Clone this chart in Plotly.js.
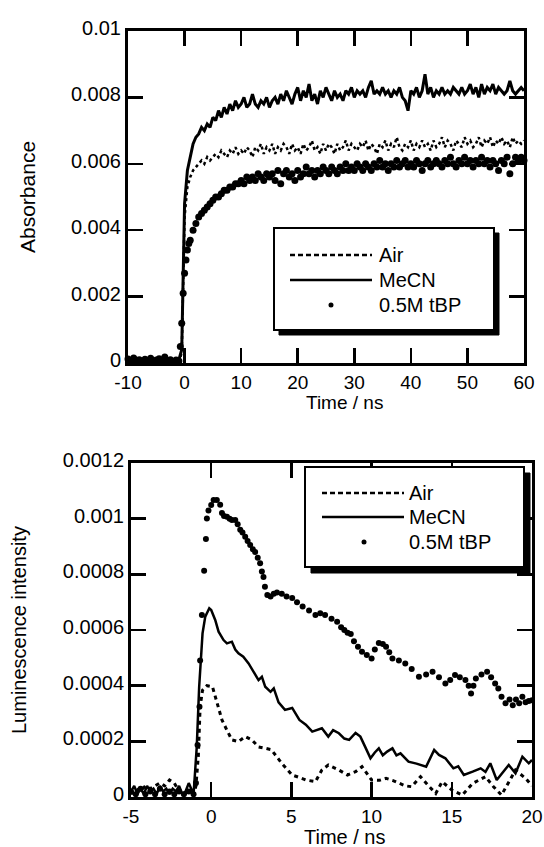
<!DOCTYPE html>
<html>
<head>
<meta charset="utf-8">
<script src="https://cdn.plot.ly/plotly-3.0.1.min.js"></script>
<style>html,body{margin:0;padding:0;background:#fff;}#chart{width:544px;height:847px;}</style>
</head>
<body>
<div id="chart"></div>
<script>
// ---------- Top panel: transient absorbance ----------
const tTop = [
 -10,-9.5,-9,-8.5,-8,-7.5,-7,-6.5,-6,-5.5,
 -5,-4.5,-4,-3.5,-3,-2.5,-2,-1.5,-1,-0.5,
 0,0.5,1,1.5,2,2.5,3,3.5,4,4.5,
 5,5.5,6,6.5,7,7.5,8,8.5,9,9.5,
 10,10.5,11,11.5,12,12.5,13,13.5,14,14.5,
 15,15.5,16,16.5,17,17.5,18,18.5,19,19.5,
 20,20.5,21,21.5,22,22.5,23,23.5,24,24.5,
 25,25.5,26,26.5,27,27.5,28,28.5,29,29.5,
 30,30.5,31,31.5,32,32.5,33,33.5,34,34.5,
 35,35.5,36,36.5,37,37.5,38,38.5,39,39.5,
 40,40.5,41,41.5,42,42.5,43,43.5,44,44.5,
 45,45.5,46,46.5,47,47.5,48,48.5,49,49.5,
 50,50.5,51,51.5,52,52.5,53,53.5,54,54.5,
 55,55.5,56,56.5,57,57.5,58,58.5,59,59.5,
 60];

const absMeCN = [
 0.0001,0.00005,0.00012,0.00003,0.00008,0.0001,0.00002,0.00009,0.00006,0.00011,
 0.00004,0.00008,0.00003,0.0001,0.00006,0.00002,0.00008,0.00005,0.0001,0.0004,
 0.0048,0.0058,0.0062,0.0066,0.0068,0.0069,0.0071,0.0070,0.0072,0.0071,
 0.0074,0.0073,0.0076,0.0074,0.0077,0.0075,0.0078,0.0076,0.0079,0.0077,
 0.0078,0.0080,0.0077,0.0078,0.0081,0.0078,0.0077,0.0079,0.0078,0.0080,
 0.0077,0.0079,0.0080,0.0078,0.0081,0.0079,0.0082,0.0080,0.0078,0.0081,
 0.0083,0.0079,0.0082,0.0080,0.0084,0.0079,0.0081,0.0078,0.0082,0.0080,
 0.0083,0.0081,0.0079,0.0082,0.0080,0.0081,0.0079,0.0082,0.0081,0.0083,
 0.0080,0.0082,0.0081,0.0082,0.0080,0.0083,0.0085,0.0081,0.0082,0.0081,
 0.0083,0.0081,0.0082,0.0080,0.0082,0.0081,0.0083,0.0080,0.0079,0.0076,
 0.0082,0.0081,0.0083,0.0080,0.0082,0.0087,0.0081,0.0083,0.0080,0.0082,
 0.0081,0.0083,0.0081,0.0082,0.0081,0.0083,0.0082,0.0081,0.0083,0.0081,
 0.0082,0.0084,0.0081,0.0083,0.0080,0.0084,0.0081,0.0083,0.0082,0.0084,
 0.0081,0.0083,0.0082,0.0081,0.0082,0.0085,0.0082,0.0081,0.0082,0.0083,
 0.0082];

const absAir = [
 0.00008,0.00003,0.0001,0.00005,0.00012,0.00004,0.00009,0.00002,0.0001,0.00006,
 0.00011,0.00003,0.00008,0.00005,0.0001,0.00004,0.00007,0.0001,0.00005,0.0003,
 0.0044,0.0053,0.0056,0.0058,0.0059,0.0060,0.0061,0.0060,0.0062,0.0061,
 0.0062,0.0063,0.0062,0.0064,0.0063,0.0062,0.0064,0.0063,0.0065,0.0063,
 0.0064,0.0063,0.0065,0.0064,0.0062,0.0065,0.0064,0.0066,0.0063,0.0065,
 0.0064,0.0066,0.0063,0.0065,0.0064,0.0066,0.0065,0.0063,0.0066,0.0064,
 0.0065,0.0063,0.0066,0.0064,0.0065,0.0067,0.0064,0.0065,0.0063,0.0066,
 0.0064,0.0066,0.0065,0.0063,0.0066,0.0064,0.0065,0.0067,0.0064,0.0066,
 0.0065,0.0064,0.0066,0.0065,0.0067,0.0064,0.0066,0.0065,0.0063,0.0066,
 0.0065,0.0067,0.0064,0.0066,0.0065,0.0068,0.0065,0.0064,0.0066,0.0065,
 0.0067,0.0064,0.0066,0.0065,0.0067,0.0065,0.0066,0.0064,0.0067,0.0065,
 0.0066,0.0068,0.0065,0.0067,0.0066,0.0064,0.0067,0.0066,0.0065,0.0068,
 0.0066,0.0067,0.0065,0.0066,0.0068,0.0065,0.0067,0.0066,0.0068,0.0065,
 0.0067,0.0066,0.0068,0.0066,0.0067,0.0065,0.0068,0.0066,0.0067,0.0066,
 0.0067];

const tTopDots = [
 -10,-9.5,-9,-8.5,-8,-7.5,-7,-6.5,-6,-5.5,
 -5,-4.5,-4,-3.5,-3,-2.5,-2,-1.5,-1,-0.75,-0.5,-0.25,
 0,0.25,0.5,0.75,1,1.5,2,2.5,3,3.5,4,4.5,
 5,5.5,6,6.5,7,7.5,8,8.5,9,9.5,
 10,10.5,11,11.5,12,12.5,13,13.5,14,14.5,
 15,15.5,16,16.5,17,17.5,18,18.5,19,19.5,
 20,20.5,21,21.5,22,22.5,23,23.5,24,24.5,
 25,25.5,26,26.5,27,27.5,28,28.5,29,29.5,
 30,30.5,31,31.5,32,32.5,33,33.5,34,34.5,
 35,35.5,36,36.5,37,37.5,38,38.5,39,39.5,
 40,40.5,41,41.5,42,42.5,43,43.5,44,44.5,
 45,45.5,46,46.5,47,47.5,48,48.5,49,49.5,
 50,50.5,51,51.5,52,52.5,53,53.5,54,54.5,
 55,55.5,56,56.5,57,57.5,58,58.5,59,59.5,
 60];

const absTBP = [
 0.00012,0.00005,0.00015,0.00008,0.0001,0.00003,0.00011,0.00006,0.00014,0.00004,
 0.00009,0.00013,0.00005,0.00018,0.00007,0.0001,0.00004,0.00009,0.00006,0.0005,0.0012,0.0021,
 0.0027,0.0031,0.0034,0.0036,0.0037,0.0040,0.0042,0.0044,0.0045,0.0046,0.0047,0.0048,
 0.0049,0.0050,0.0050,0.0051,0.0052,0.0052,0.0053,0.0053,0.0054,0.0054,
 0.0055,0.0054,0.0056,0.0055,0.0056,0.0055,0.0057,0.0056,0.0055,0.0057,
 0.0056,0.0057,0.0055,0.0058,0.0054,0.0057,0.0058,0.0056,0.0057,0.0055,
 0.0058,0.0056,0.0057,0.0059,0.0057,0.0058,0.0056,0.0058,0.0057,0.0059,
 0.0058,0.0057,0.0059,0.0058,0.0057,0.0059,0.0058,0.0060,0.0058,0.0059,
 0.0058,0.0060,0.0059,0.0058,0.0060,0.0059,0.0058,0.0060,0.0059,0.0061,
 0.0059,0.0060,0.0058,0.0060,0.0059,0.0061,0.0059,0.0060,0.0061,0.0059,
 0.0060,0.0059,0.0061,0.0060,0.0058,0.0060,0.0061,0.0059,0.0060,0.0061,
 0.0060,0.0059,0.0061,0.0060,0.0062,0.0060,0.0059,0.0061,0.0060,0.0062,
 0.0060,0.0061,0.0059,0.0061,0.0060,0.0062,0.0060,0.0061,0.0059,0.0061,
 0.0060,0.0058,0.0061,0.0060,0.0062,0.0057,0.0060,0.0062,0.0061,0.0062,
 0.0061];

// ---------- Bottom panel: luminescence ----------
const tLumMeCN = [
 -5,-4.8,-4.6,-4.4,-4.2,-4,-3.8,-3.6,-3.4,-3.2,
 -3,-2.8,-2.6,-2.4,-2.2,-2,-1.8,-1.6,-1.4,-1.2,
 -1.1,-0.9,-0.75,-0.54,-0.37,-0.12,0,0.25,0.46,0.77,
 0.98,1.29,1.5,1.7,2,2.33,2.64,2.95,3.16,3.37,
 3.7,3.9,4.2,4.6,5.05,5.5,5.9,6.3,6.9,7.3,
 7.6,7.96,8.3,8.6,9,9.3,9.6,9.93,10.2,10.45,
 10.7,10.97,11.3,11.55,11.8,12.3,12.8,13.4,13.9,14.2,
 14.6,15.1,15.4,15.75,16.3,16.8,17.1,17.4,17.8,18.2,
 18.55,18.97,19.4,19.8,20];
const lumMeCN = [
 0.00002,0.00004,0.00001,0.00003,0.00001,0.00004,0.00002,0.00003,0.00001,0.00004,
 0.00002,0.00003,0.00001,0.00003,0.00002,0.00004,0.00001,0.00002,0.00005,0.00002,
 0.00001,0.00018,0.000396,0.000588,0.000648,0.000678,0.000672,0.000636,0.000594,0.000564,
 0.000552,0.000558,0.00053,0.000516,0.000504,0.00048,0.00045,0.00042,0.000432,0.000396,
 0.000378,0.00039,0.00034,0.000313,0.00032,0.000277,0.00026,0.000235,0.000247,0.000217,
 0.00024,0.000229,0.00021,0.000205,0.00023,0.000217,0.00018,0.000139,0.00016,0.000175,
 0.00015,0.000163,0.000175,0.00015,0.000157,0.000127,0.00012,0.000109,0.000169,0.000151,
 0.000139,0.000103,0.00011,0.000079,0.000091,0.000103,0.00009,0.000121,0.000061,0.00009,
 0.000115,0.000085,0.000145,0.000121,0.000133];

const tLumAir = [
 -5,-4.7,-4.4,-4.1,-3.8,-3.5,-3.2,-2.9,-2.6,-2.3,
 -2,-1.7,-1.4,-1.1,-0.95,-0.8,-0.69,-0.54,-0.27,0.08,
 0.2,0.46,0.67,0.98,1.29,1.7,2.12,2.54,2.95,3.37,
 3.75,4.4,5.05,5.5,5.9,6.5,6.9,7.3,7.96,8.5,
 9,9.4,10,10.5,10.9,11.3,11.7,12.1,12.5,13.05,
 13.5,14,14.4,15,15.65,16.3,17.1,17.6,18.1,18.55,
 18.97,19.6,20];
const lumAir = [
 0.00001,0.00003,0.00002,0.00004,0.00003,0.00004,0.00005,0.00004,0.000061,0.00005,
 0.00002,0.00001,0.00002,0.00001,0.00004,0.00015,0.000324,0.000384,0.0004,0.000396,
 0.000372,0.000313,0.000277,0.00024,0.000205,0.000199,0.000217,0.000205,0.00018,0.000175,
 0.00017,0.000121,0.000079,0.00007,0.000061,0.000055,0.000097,0.000115,0.000097,0.000079,
 0.000091,0.000109,0.000061,0.00006,0.000067,0.00006,0.000049,0.00004,0.000037,0.000073,
 0.000043,0.000013,0.000055,0.000025,0.000007,0.000049,0.000073,0.000037,0.000007,0.000055,
 0.000097,0.000067,0.00004];

const tLumTBP = [
 -5,-4.7,-4.4,-4.1,-3.8,-3.5,-3.2,-2.9,-2.6,-2.3,
 -2,-1.7,-1.4,-1.1,-0.95,-0.85,-0.73,-0.69,-0.58,-0.44,
 -0.33,-0.27,-0.17,0,0.15,0.35,0.56,0.67,0.8,0.98,
 1.15,1.29,1.5,1.65,1.81,1.95,2.12,2.27,2.43,2.6,
 2.74,2.9,3.05,3.16,3.26,3.35,3.5,3.7,3.9,4.1,
 4.4,4.7,5.05,5.35,5.7,6.1,6.5,6.8,7.1,7.5,
 7.85,8.1,8.3,8.5,8.7,8.9,9.15,9.4,9.7,10,
 10.2,10.45,10.7,10.9,11.1,11.3,11.7,12.1,12.5,12.95,
 13.4,13.8,14.2,14.6,14.9,15.2,15.5,15.85,16.05,16.2,
 16.35,16.5,16.85,17.2,17.45,17.7,17.9,18.1,18.35,18.6,
 18.8,19,19.2,19.4,19.6,19.8,20];
const lumTBP = [
 0.00002,0.00001,0.00003,0.00001,0.00002,0.00001,0.00003,0.00001,0.00002,0.00001,
 0.00002,0.00001,0.00002,0.00001,0.00005,0.000187,0.000324,0.00049,0.000654,0.000813,
 0.000927,0.001001,0.001029,0.001049,0.001067,0.001067,0.00105,0.00102,0.00101,0.001007,
 0.001,0.000995,0.000995,0.00098,0.00096,0.00095,0.000935,0.00092,0.000905,0.00089,
 0.00088,0.00086,0.00084,0.00081,0.00079,0.000755,0.000726,0.00072,0.00073,0.000735,
 0.00073,0.00072,0.000715,0.0007,0.000684,0.00067,0.000654,0.00066,0.000654,0.00064,
 0.00063,0.00061,0.0006,0.00059,0.000586,0.00056,0.00054,0.000522,0.00051,0.000498,
 0.00053,0.000553,0.00055,0.00054,0.00052,0.000498,0.00049,0.00048,0.00046,0.000432,
 0.00044,0.00045,0.00043,0.000408,0.00042,0.000438,0.00043,0.00042,0.0004,0.000372,
 0.0004,0.000426,0.00044,0.00045,0.00043,0.000408,0.00039,0.00036,0.000337,0.00035,
 0.00033,0.00035,0.000337,0.00036,0.00034,0.000345,0.000348];

// ---------- Ticks and labels ----------
const xTickTop = [-10,0,10,20,30,40,50,60];
const xTickTopText = ['-10','0','10','20','30','40','50','60'];
const yTickTop = [0,0.002,0.004,0.006,0.008,0.01];
const yTickTopText = ['0','0.002','0.004','0.006','0.008','0.01'];
const xTickBot = [-5,0,5,10,15,20];
const xTickBotText = ['-5','0','5','10','15','20'];
const yTickBot = [0,0.0002,0.0004,0.0006,0.0008,0.001,0.0012];
const yTickBotText = ['0','0.0002','0.0004','0.0006','0.0008','0.001','0.0012'];
const seriesNames = ['Air','MeCN','0.5M tBP'];
const xTitle = 'Time / ns';
const yTitleTop = 'Absorbance';
const yTitleBot = 'Luminescence intensity';

// ---------- Layout helpers (pixel -> paper) ----------
const W = 544, H = 847;
const px = v => v / W;
const py = v => 1 - v / H;
const FONT = 'Liberation Sans, Arial, Helvetica, sans-serif';

const axisStyle = {
  showline: true, linewidth: 3, linecolor: '#000', mirror: 'ticks',
  ticks: 'inside', ticklen: 15, tickwidth: 2.5, tickcolor: '#000',
  showgrid: false, zeroline: false, automargin: false, fixedrange: true,
  tickfont: {family: FONT, size: 20, color: '#000'}
};
const xAxisExtra = {tickfont: {family: FONT, size: 19, color: '#000'}, ticklabelstandoff: 0};
const yAxisExtra = {ticklabelshift: -3};

const traces = [
  {x: tTop, y: absAir, xaxis: 'x', yaxis: 'y', mode: 'lines', name: seriesNames[0],
   line: {color: '#000', width: 2.5, dash: '3px,3px'}},
  {x: tTop, y: absMeCN, xaxis: 'x', yaxis: 'y', mode: 'lines', name: seriesNames[1],
   line: {color: '#000', width: 3}},
  {x: tTopDots, y: absTBP, xaxis: 'x', yaxis: 'y', mode: 'markers', name: seriesNames[2],
   marker: {color: '#000', size: 7}, cliponaxis: false},
  {x: tLumAir, y: lumAir, xaxis: 'x2', yaxis: 'y2', mode: 'lines', name: seriesNames[0],
   line: {color: '#000', width: 3, dash: '4px,4px'}},
  {x: tLumMeCN, y: lumMeCN, xaxis: 'x2', yaxis: 'y2', mode: 'lines', name: seriesNames[1],
   line: {color: '#000', width: 2.5}},
  {x: tLumTBP, y: lumTBP, xaxis: 'x2', yaxis: 'y2', mode: 'markers', name: seriesNames[2],
   marker: {color: '#000', size: 6}, cliponaxis: false}
];

function legendParts(box, shadow, lineX0, lineX1, dotX, textX, rowsY) {
  const shapes = [
    {type: 'rect', xref: 'paper', yref: 'paper', x0: px(shadow[0]), x1: px(shadow[2]), y0: py(shadow[3]), y1: py(shadow[1]),
     fillcolor: '#000', line: {color: '#000', width: 1}, layer: 'above'},
    {type: 'rect', xref: 'paper', yref: 'paper', x0: px(box[0]), x1: px(box[2]), y0: py(box[3]), y1: py(box[1]),
     fillcolor: '#fff', line: {color: '#000', width: 2}, layer: 'above'},
    {type: 'line', xref: 'paper', yref: 'paper', x0: px(lineX0), x1: px(lineX1), y0: py(rowsY[0]), y1: py(rowsY[0]),
     line: {color: '#000', width: 2.5, dash: '5px,3px'}, layer: 'above'},
    {type: 'line', xref: 'paper', yref: 'paper', x0: px(lineX0), x1: px(lineX1), y0: py(rowsY[1]), y1: py(rowsY[1]),
     line: {color: '#000', width: 2.5}, layer: 'above'},
    {type: 'circle', xref: 'paper', yref: 'paper', x0: px(dotX - 2.5), x1: px(dotX + 2.5), y0: py(rowsY[2] + 2.5), y1: py(rowsY[2] - 2.5),
     fillcolor: '#000', line: {color: '#000', width: 0}, layer: 'above'}
  ];
  const annotations = seriesNames.map((n, i) => ({
    text: n, xref: 'paper', yref: 'paper', x: px(textX), y: py(rowsY[i]),
    xanchor: 'left', yanchor: 'middle', showarrow: false,
    font: {family: FONT, size: 20, color: '#000'}
  }));
  return {shapes, annotations};
}

const legTop = legendParts([274, 228, 494, 330], [279, 233, 499, 335], 290, 372, 331, 377, [255, 280, 305]);
const legBot = legendParts([305, 467, 524, 567], [311, 473, 530, 573], 322, 404, 364, 407, [493, 517, 542]);

const titleAnn = [
  {text: yTitleTop, xref: 'paper', yref: 'paper', x: px(27), y: py(197), textangle: -90,
   xanchor: 'center', yanchor: 'middle', showarrow: false, font: {family: FONT, size: 21, color: '#000'}},
  {text: xTitle, xref: 'paper', yref: 'paper', x: px(344), y: py(402),
   xanchor: 'center', yanchor: 'middle', showarrow: false, font: {family: FONT, size: 19, color: '#000'}},
  {text: yTitleBot, xref: 'paper', yref: 'paper', x: px(19), y: py(630), textangle: -90,
   xanchor: 'center', yanchor: 'middle', showarrow: false, font: {family: FONT, size: 20, color: '#000'}},
  {text: xTitle, xref: 'paper', yref: 'paper', x: px(345), y: py(837),
   xanchor: 'center', yanchor: 'middle', showarrow: false, font: {family: FONT, size: 20, color: '#000'}}
];

const layout = {
  width: W, height: H, margin: {l: 0, r: 0, t: 0, b: 0},
  paper_bgcolor: '#fff', plot_bgcolor: '#fff', showlegend: false,
  font: {family: FONT, size: 20, color: '#000'},
  xaxis: Object.assign({}, axisStyle, xAxisExtra, {domain: [px(128), px(524)], anchor: 'y', range: [-10, 60],
    tickmode: 'array', tickvals: xTickTop, ticktext: xTickTopText}),
  yaxis: Object.assign({}, axisStyle, yAxisExtra, {domain: [py(363), py(31)], anchor: 'x', range: [0, 0.01],
    tickmode: 'array', tickvals: yTickTop, ticktext: yTickTopText}),
  xaxis2: Object.assign({}, axisStyle, xAxisExtra, {domain: [px(131), px(532)], anchor: 'y2', range: [-5, 20],
    tickmode: 'array', tickvals: xTickBot, ticktext: xTickBotText}),
  yaxis2: Object.assign({}, axisStyle, yAxisExtra, {domain: [py(797), py(463)], anchor: 'x2', range: [0, 0.0012],
    tickmode: 'array', tickvals: yTickBot, ticktext: yTickBotText}),
  shapes: legTop.shapes.concat(legBot.shapes),
  annotations: titleAnn.concat(legTop.annotations, legBot.annotations)
};

Plotly.newPlot('chart', traces, layout, {displayModeBar: false, staticPlot: true});
</script>
</body>
</html>
